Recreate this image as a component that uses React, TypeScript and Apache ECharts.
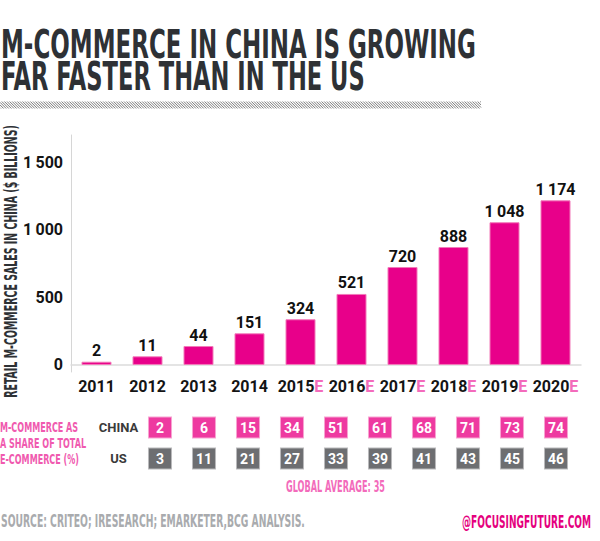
import React, { useEffect, useRef } from 'react';
import * as echarts from 'echarts';

// ---------- data ----------
const years = ['2011', '2012', '2013', '2014', '2015', '2016', '2017', '2018', '2019', '2020'];
const estimated = [false, false, false, false, true, true, true, true, true, true];
// values printed above the bars ($ billions)
const salesLabels = [2, 11, 44, 151, 324, 521, 720, 888, 1048, 1174];
const barHeights = [24, 64, 140, 234, 338, 525, 724, 872, 1055, 1217];
const yTicks = [0, 500, 1000, 1500];
const shareRows = ['US', 'CHINA'];
const chinaShare = [2, 6, 15, 34, 51, 61, 68, 71, 73, 74];
const usShare = [3, 11, 21, 27, 33, 39, 41, 43, 45, 46];
const globalAverage = 35;
const titleLines = ['M-COMMERCE IN CHINA IS GROWING', 'FAR FASTER THAN IN THE US'];
const yTitle = 'RETAIL M-COMMERCE SALES IN CHINA ($ BILLIONS)';
const shareTitle = ['M-COMMERCE AS', 'A SHARE OF TOTAL', 'E-COMMERCE (%)'];
const sourceText = 'SOURCE: CRITEO; IRESEARCH; EMARKETER,BCG ANALYSIS.';
const creditText = '@FOCUSINGFUTURE.COM';

// ---------- style ----------
const NARROW = '"Liberation Sans Narrow", "DejaVu Sans Condensed", "Roboto", sans-serif';
const LABEL = 'Roboto, "Liberation Sans", sans-serif';
const DARK = '#2e3135';
const MAGENTA = '#e8008a';
const PINK_TEXT = '#f05aaf';

// hatched rule under the title
let hatchD = '';
for (let x = -6; x < 481; x += 2.6) {
  const x0 = Math.max(x, 0);
  const y0 = 101.5 + (x0 - x);
  const x1 = Math.min(x + 7, 481);
  const y1 = 101.5 + (x1 - x);
  hatchD += `M${x0.toFixed(2)} ${y0.toFixed(2)}L${x1.toFixed(2)} ${y1.toFixed(2)}`;
}
echarts.graphic.registerShape('hatch', echarts.graphic.extendPath(hatchD, {}));

const fmtNum = (v: number) =>
  v >= 1000 ? `${Math.floor(v / 1000)}\u2009${String(v % 1000).padStart(3, '0')}` : String(v);

function fitScale(text: string, size: number, target: number) {
  const c = document.createElement('canvas').getContext('2d');
  if (!c) return 1;
  c.font = `bold ${size}px ${NARROW}`;
  const w = c.measureText(text).width;
  return w > 0 ? target / w : 1;
}

export default function App() {
  const ref = useRef<HTMLDivElement>(null);

  useEffect(() => {
    document.body.style.margin = '0';
    if (!ref.current) return;
    const chart = echarts.init(ref.current, undefined, { renderer: 'svg' });

    const txt = (text: string, x: number, y: number, size: number, fill: string, align: string, scaleX: number, extra: any = {}) => ({
      type: 'text',
      x,
      y,
      scaleX,
      ...extra,
      style: {
        text,
        fontSize: size,
        fontWeight: 'bold',
        fontFamily: NARROW,
        fill,
        align,
        verticalAlign: 'middle',
      },
    });

    const sTitle1 = fitScale(titleLines[0], 39, 475);
    const sTitle2 = fitScale(titleLines[1], 39, 364);
    const sY = fitScale(yTitle, 18, 273);
    const sShare = fitScale(shareTitle[1], 14, 86);
    const sAvg = fitScale(`GLOBAL AVERAGE: ${globalAverage}`, 16, 99);
    const sSrc = fitScale(sourceText, 18, 304);
    const sCredit = fitScale(creditText, 18, 129);

    chart.setOption({
      animation: false,
      backgroundColor: '#ffffff',
      grid: [
        { left: 71, right: 19, top: 135, bottom: 169 },
        { left: 138, right: 22, top: 412, bottom: 67 },
      ],
      xAxis: [
        {
          type: 'category',
          gridIndex: 0,
          data: years,
          axisLine: { show: true, onZero: true, lineStyle: { color: '#dcdcdc', width: 1.5 } },
          axisTick: { show: false },
          axisLabel: {
            interval: 0,
            margin: 6,
            formatter: (v: string, i: number) => (estimated[i] ? `{y|${v}}{e|E}` : `{y|${v}}`),
            rich: {
              y: { fontSize: 16, fontWeight: 'bold', fontFamily: LABEL, color: '#141414' },
              e: { fontSize: 16, fontWeight: 'bold', fontFamily: LABEL, color: '#f36bbb' },
            },
          },
        },
        {
          type: 'category',
          gridIndex: 1,
          data: years,
          show: false,
        },
      ],
      yAxis: [
        {
          type: 'value',
          gridIndex: 0,
          min: -52,
          max: 1700,
          axisLine: { show: true, lineStyle: { color: '#d6d6d6', width: 1 } },
          axisTick: { show: false },
          splitLine: { show: false },
          axisLabel: {
            customValues: yTicks,
            formatter: (v: number) => fmtNum(v),
            margin: 8,
            fontSize: 16,
            fontWeight: 'bold',
            fontFamily: LABEL,
            color: '#141414',
          },
        },
        {
          type: 'category',
          gridIndex: 1,
          data: shareRows,
          axisLine: { show: false },
          axisTick: { show: false },
          splitLine: { show: false },
          axisLabel: {
            align: 'center',
            margin: 19.5,
            fontSize: 13,
            fontWeight: 'bold',
            fontFamily: LABEL,
            color: '#3a3a3a',
          },
        },
      ],
      series: [
        {
          type: 'bar',
          xAxisIndex: 0,
          yAxisIndex: 0,
          data: barHeights,
          barWidth: 30,
          itemStyle: { color: MAGENTA, borderColor: '#f27ab9', borderWidth: 1 },
          label: {
            show: true,
            position: 'top',
            distance: 3,
            formatter: (p: any) => fmtNum(salesLabels[p.dataIndex]),
            fontSize: 16,
            fontWeight: 'bold',
            fontFamily: LABEL,
            color: '#111111',
          },
        },
        {
          type: 'scatter',
          xAxisIndex: 1,
          yAxisIndex: 1,
          symbol: 'rect',
          symbolSize: [23, 21],
          data: chinaShare.map((v, i) => [i, 'CHINA', v]),
          itemStyle: { color: '#ee3aa0', borderColor: '#f7a3d1', borderWidth: 1, opacity: 1 },
          label: {
            show: true,
            position: 'inside',
            formatter: (p: any) => String(p.value[2]),
            fontSize: 14,
            fontWeight: 'bold',
            fontFamily: LABEL,
            color: '#ffffff',
          },
        },
        {
          type: 'scatter',
          xAxisIndex: 1,
          yAxisIndex: 1,
          symbol: 'rect',
          symbolSize: [23, 21],
          data: usShare.map((v, i) => [i, 'US', v]),
          itemStyle: { color: '#6d6e71', borderColor: '#b9b9bb', borderWidth: 1, opacity: 1 },
          label: {
            show: true,
            position: 'inside',
            formatter: (p: any) => String(p.value[2]),
            fontSize: 14,
            fontWeight: 'bold',
            fontFamily: LABEL,
            color: '#ffffff',
          },
        },
      ],
      graphic: [
        txt(titleLines[0], 1, 44, 39, DARK, 'left', sTitle1),
        txt(titleLines[1], 1, 77, 39, DARK, 'left', sTitle2),
        {
          type: 'hatch',
          x: 0,
          y: 0,
          style: { stroke: '#7a7a7a', lineWidth: 1, fill: null },
        },
        txt(yTitle, 10, 261.5, 18, DARK, 'center', sY, { rotation: Math.PI / 2 }),
        txt(shareTitle[0], 0, 427.3, 14, PINK_TEXT, 'left', sShare),
        txt(shareTitle[1], 0, 443.3, 14, PINK_TEXT, 'left', sShare),
        txt(shareTitle[2], 0, 459, 14, PINK_TEXT, 'left', sShare),
        txt(`GLOBAL AVERAGE: ${globalAverage}`, 335.5, 486, 16, '#f36bbb', 'center', sAvg),
        txt(sourceText, 1, 520, 18, '#a9abae', 'left', sSrc),
        txt(creditText, 591, 521, 18, '#e5007e', 'right', sCredit),
      ],
    });

    return () => chart.dispose();
  }, []);

  return <div ref={ref} style={{ width: 600, height: 541 }} />;
}
